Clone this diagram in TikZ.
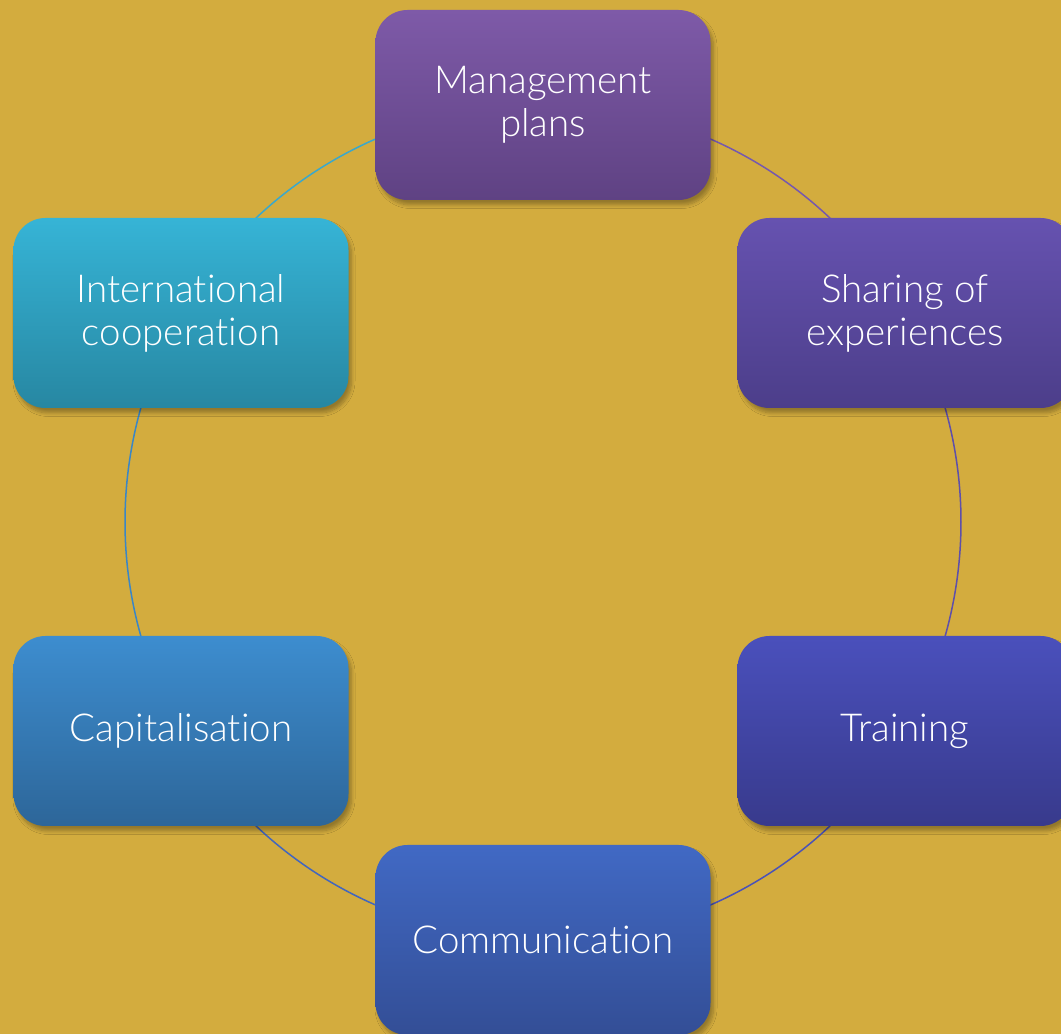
\documentclass[tikz,border=0pt]{standalone}
\usepackage{fontspec}
\IfFontExistsTF{Lato Light}{\setmainfont{Lato Light}[Ligatures={NoCommon}]}{%
  \IfFontExistsTF{Fira Sans Light}{\setmainfont{Fira Sans Light}}{\setmainfont{Lato}}}
\usetikzlibrary{shadows.blur}
\definecolor{bg}{HTML}{D3AC3E}
\definecolor{mTop}{HTML}{7E5AA8}\definecolor{mBot}{HTML}{5F4283}
\definecolor{sTop}{HTML}{6652B0}\definecolor{sBot}{HTML}{4C3E8A}
\definecolor{tTop}{HTML}{4A50BC}\definecolor{tBot}{HTML}{383A8C}
\definecolor{cTop}{HTML}{4169C4}\definecolor{cBot}{HTML}{334E96}
\definecolor{kTop}{HTML}{3D8DCF}\definecolor{kBot}{HTML}{2D6699}
\definecolor{iTop}{HTML}{36B4D6}\definecolor{iBot}{HTML}{2787A2}
\definecolor{arcA}{HTML}{7658AE}
\definecolor{arcB}{HTML}{5E4FAA}
\definecolor{arcC}{HTML}{4A52B8}
\definecolor{arcD}{HTML}{4266BE}
\definecolor{arcE}{HTML}{3A86C6}
\definecolor{arcF}{HTML}{3AA8CC}
\tikzset{
  cyclebox/.style={rectangle, rounded corners=32pt, minimum width=335pt,
    minimum height=190pt, inner sep=0pt, align=center, text=white,
    font=\fontsize{38.5}{43}\selectfont,
    blur shadow={shadow xshift=3pt, shadow yshift=-5pt, shadow blur steps=8,
      shadow blur radius=3.5pt, shadow opacity=30}},
  ring/.style={line width=1.5pt}
}
\begin{document}
\begin{tikzpicture}[x=1pt,y=1pt]
\fill[bg] (0,0) rectangle (1061,1034);
\useasboundingbox (0,0) rectangle (1061,1034);
\clip (0,0) rectangle (1061,1034);
% ring arcs
\coordinate (aM) at (543,930);
\draw[ring, arcA] (aM) arc[start angle=90, end angle=30, radius=418] coordinate (aS);
\draw[ring, arcB] (aS) arc[start angle=30, end angle=-30, radius=418] coordinate (aT);
\draw[ring, arcC] (aT) arc[start angle=-30, end angle=-90, radius=418] coordinate (aC);
\draw[ring, arcD] (aC) arc[start angle=-90, end angle=-150, radius=418] coordinate (aK);
\draw[ring, arcE] (aK) arc[start angle=210, end angle=150, radius=418] coordinate (aI);
\draw[ring, arcF] (aI) arc[start angle=150, end angle=90, radius=418];
% boxes
\node[cyclebox, top color=mTop, bottom color=mBot] (M) at (543,929) {Management\\plans};
\node[cyclebox, top color=sTop, bottom color=sBot] (S) at (905,721) {Sharing of\\experiences};
\node[cyclebox, top color=tTop, bottom color=tBot] (T) at (905,303) {Training};
\node[cyclebox, top color=cTop, bottom color=cBot] (C) at (543,94) {Communication};
\node[cyclebox, top color=kTop, bottom color=kBot] (K) at (181,303) {Capitalisation};
\node[cyclebox, top color=iTop, bottom color=iBot] (I) at (181,721) {International\\cooperation};
\end{tikzpicture}
\end{document}
